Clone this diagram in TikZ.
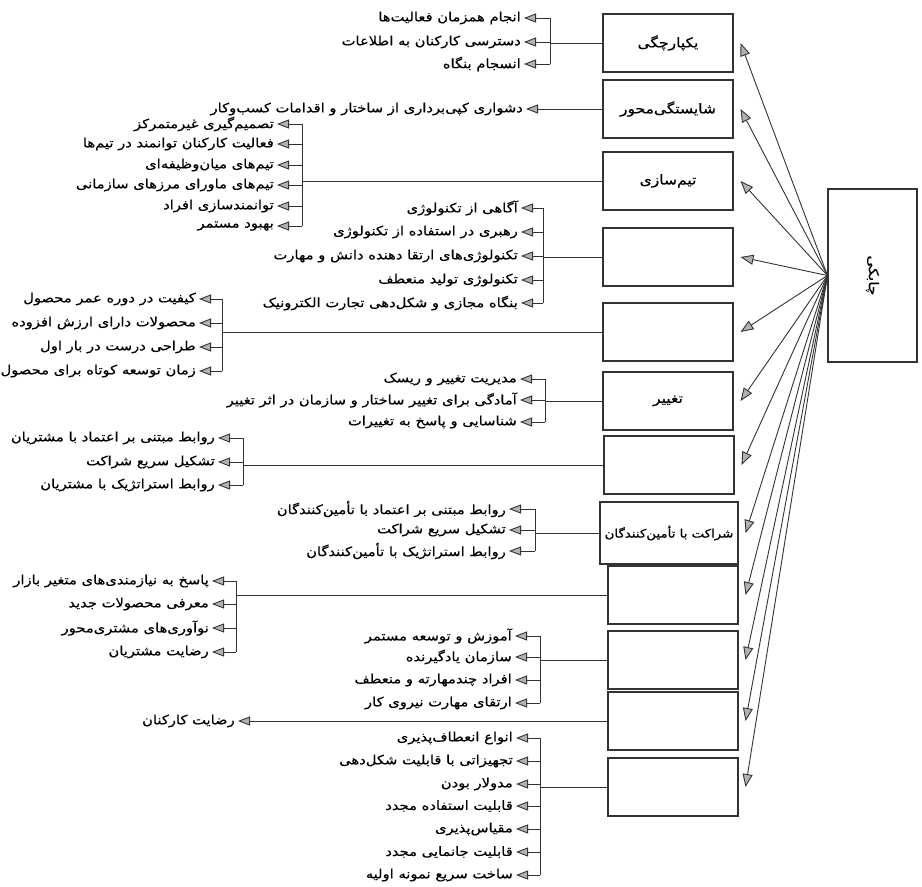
\documentclass[tikz,border=0pt]{standalone}
\usepackage{fontspec}
\newfontfamily\arabicfont[Script=Arabic, FakeStretch=1.15, FakeBold=0.4]{DejaVu Sans}
\TeXXeTstate=1
\usetikzlibrary{arrows.meta}
\tikzset{
  ln/.style={draw=black!80, line width=0.9pt},
  box/.style={draw=black!80, line width=1.1pt, minimum width=130pt, minimum height=58pt, inner sep=0pt, font=\arabicfont\fontsize{13.5}{15}\selectfont},
  itm/.style={anchor=east, inner sep=3pt, font=\arabicfont\fontsize{12.8}{14}\selectfont},
  tk/.style={ln, -{Triangle[length=12pt,width=9pt,fill=gray!60]}},
  ray/.style={ln, -{Triangle[length=13pt,width=10pt,fill=gray!60]}},
}
\begin{document}
\begin{tikzpicture}[x=1pt,y=-1pt]
\fill[white] (0,0) rectangle (922,887);
\useasboundingbox (0,0) rectangle (922,887);

% middle boxes
\node[box] (m1) at (668,43) {\beginR یکپارچگی\endR};
\node[box] (m2) at (668,109) {\beginR شایستگی‌محور\endR};
\node[box] (m3) at (668,181) {\beginR تیم‌سازی\endR};
\node[box] (m4) at (668,257) {};
\node[box] (m5) at (668,332) {};
\node[box] (m6) at (668,401) {\beginR تغییر\endR};
\node[box] (m7) at (669,465) {};
\node[box, minimum width=138pt, minimum height=62pt, font=\arabicfont\fontsize{11.6}{13}\selectfont] (m8) at (669,533) {\beginR شراکت با تأمین‌کنندگان\endR};
\node[box] (m9) at (673,595) {};
\node[box] (m10) at (673,660) {};
\node[box] (m11) at (673,721) {};
\node[box] (m12) at (673,787) {};

% right box
\node[box, rotate=-90, minimum width=173pt, minimum height=89pt] (agil) at (872.5,275.5) {\beginR چابکی\endR};

\foreach \m in {m1,m2,m3,m4,m5,m6,m7,m8,m9,m10,m11,m12}
  \draw[ray] (agil.south) -- ([xshift=7pt]\m.east);

% group 1
\coordinate (j1) at (550,43);
\node[itm] (i1a) at (524,18) {\beginR انجام همزمان فعالیت‌ها\endR};
\node[itm] (i1b) at (524,42) {\beginR دسترسی کارکنان به اطلاعات\endR};
\node[itm] (i1c) at (524,64) {\beginR انسجام بنگاه\endR};
\draw[ln] (m1.west) -- (m1.west -| j1);
\draw[ln] (j1 |- i1a.east) -- (j1 |- i1c.east);
\foreach \n in {a,b,c} \draw[tk] (j1 |- i1\n.east) -- (i1\n.east);

% group 2
\node[itm] (i2) at (526,109) {\beginR دشواری کپی‌برداری از ساختار و اقدامات کسب‌وکار\endR};
\draw[tk] (m2.west) -- (i2.east);

% group 3
\coordinate (j3) at (302,181);
\node[itm] (i3a) at (277,124) {\beginR تصمیم‌گیری غیرمتمرکز\endR};
\node[itm] (i3b) at (277,144) {\beginR فعالیت کارکنان توانمند در تیم‌ها\endR};
\node[itm] (i3c) at (277,165) {\beginR تیم‌های میان‌وظیفه‌ای\endR};
\node[itm] (i3d) at (277,185) {\beginR تیم‌های ماورای مرزهای سازمانی\endR};
\node[itm] (i3e) at (277,206) {\beginR توانمندسازی افراد\endR};
\node[itm] (i3f) at (277,226) {\beginR بهبود مستمر\endR};
\draw[ln] (m3.west) -- (m3.west -| j3);
\draw[ln] (j3 |- i3a.east) -- (j3 |- i3f.east);
\foreach \n in {a,b,c,d,e,f} \draw[tk] (j3 |- i3\n.east) -- (i3\n.east);

% group 4
\coordinate (j4) at (543,257);
\node[itm] (i4a) at (521,208) {\beginR آگاهی از تکنولوژی\endR};
\node[itm] (i4b) at (521,232) {\beginR رهبری در استفاده از تکنولوژی\endR};
\node[itm] (i4c) at (521,256) {\beginR تکنولوژی‌های ارتقا دهنده دانش و مهارت\endR};
\node[itm] (i4d) at (521,280) {\beginR تکنولوژی تولید منعطف\endR};
\node[itm] (i4e) at (521,303) {\beginR بنگاه مجازی و شکل‌دهی تجارت الکترونیک\endR};
\draw[ln] (m4.west) -- (m4.west -| j4);
\draw[ln] (j4 |- i4a.east) -- (j4 |- i4e.east);
\foreach \n in {a,b,c,d,e} \draw[tk] (j4 |- i4\n.east) -- (i4\n.east);

% group 5
\coordinate (j5) at (222,332);
\node[itm] (i5a) at (199,299) {\beginR کیفیت در دوره عمر محصول\endR};
\node[itm] (i5b) at (199,323) {\beginR محصولات دارای ارزش افزوده\endR};
\node[itm] (i5c) at (199,347) {\beginR طراحی درست در بار اول\endR};
\node[itm] (i5d) at (199,371) {\beginR زمان توسعه کوتاه برای محصول\endR};
\draw[ln] (m5.west) -- (m5.west -| j5);
\draw[ln] (j5 |- i5a.east) -- (j5 |- i5d.east);
\foreach \n in {a,b,c,d} \draw[tk] (j5 |- i5\n.east) -- (i5\n.east);

% group 6
\coordinate (j6) at (545,401);
\node[itm] (i6a) at (520,379) {\beginR مدیریت تغییر و ریسک\endR};
\node[itm] (i6b) at (520,400) {\beginR آمادگی برای تغییر ساختار و سازمان در اثر تغییر\endR};
\node[itm] (i6c) at (520,422) {\beginR شناسایی و پاسخ به تغییرات\endR};
\draw[ln] (m6.west) -- (m6.west -| j6);
\draw[ln] (j6 |- i6a.east) -- (j6 |- i6c.east);
\foreach \n in {a,b,c} \draw[tk] (j6 |- i6\n.east) -- (i6\n.east);

% group 7
\coordinate (j7) at (243,465);
\node[itm] (i7a) at (218,438) {\beginR روابط مبتنی بر اعتماد با مشتریان\endR};
\node[itm] (i7b) at (218,462) {\beginR تشکیل سریع شراکت\endR};
\node[itm] (i7c) at (218,485) {\beginR روابط استراتژیک با مشتریان\endR};
\draw[ln] (m7.west) -- (m7.west -| j7);
\draw[ln] (j7 |- i7a.east) -- (j7 |- i7c.east);
\foreach \n in {a,b,c} \draw[tk] (j7 |- i7\n.east) -- (i7\n.east);

% group 8
\coordinate (j8) at (535,533);
\node[itm] (i8a) at (509,509) {\beginR روابط مبتنی بر اعتماد با تأمین‌کنندگان\endR};
\node[itm] (i8b) at (509,530) {\beginR تشکیل سریع شراکت\endR};
\node[itm] (i8c) at (509,551) {\beginR روابط استراتژیک با تأمین‌کنندگان\endR};
\draw[ln] (m8.west) -- (m8.west -| j8);
\draw[ln] (j8 |- i8a.east) -- (j8 |- i8c.east);
\foreach \n in {a,b,c} \draw[tk] (j8 |- i8\n.east) -- (i8\n.east);

% group 9
\coordinate (j9) at (236,595);
\node[itm] (i9a) at (212,581) {\beginR پاسخ به نیازمندی‌های متغیر بازار\endR};
\node[itm] (i9b) at (212,604) {\beginR معرفی محصولات جدید\endR};
\node[itm] (i9c) at (212,628) {\beginR نوآوری‌های مشتری‌محور\endR};
\node[itm] (i9d) at (212,652) {\beginR رضایت مشتریان\endR};
\draw[ln] (m9.west) -- (m9.west -| j9);
\draw[ln] (j9 |- i9a.east) -- (j9 |- i9d.east);
\foreach \n in {a,b,c,d} \draw[tk] (j9 |- i9\n.east) -- (i9\n.east);

% group 10
\coordinate (j10) at (540,660);
\node[itm] (i10a) at (515,636) {\beginR آموزش و توسعه مستمر\endR};
\node[itm] (i10b) at (515,657) {\beginR سازمان یادگیرنده\endR};
\node[itm] (i10c) at (515,680) {\beginR افراد چندمهارته و منعطف\endR};
\node[itm] (i10d) at (515,703) {\beginR ارتقای مهارت نیروی کار\endR};
\draw[ln] (m10.west) -- (m10.west -| j10);
\draw[ln] (j10 |- i10a.east) -- (j10 |- i10d.east);
\foreach \n in {a,b,c,d} \draw[tk] (j10 |- i10\n.east) -- (i10\n.east);

% group 11
\node[itm] (i11) at (238,721) {\beginR رضایت کارکنان\endR};
\draw[tk] (m11.west) -- (i11.east);

% group 12
\coordinate (j12) at (540,787);
\node[itm] (i12a) at (516,738) {\beginR انواع انعطاف‌پذیری\endR};
\node[itm] (i12b) at (516,761) {\beginR تجهیزاتی با قابلیت شکل‌دهی\endR};
\node[itm] (i12c) at (516,784) {\beginR مدولار بودن\endR};
\node[itm] (i12d) at (516,806) {\beginR قابلیت استفاده مجدد\endR};
\node[itm] (i12e) at (516,829) {\beginR مقیاس‌پذیری\endR};
\node[itm] (i12f) at (516,852) {\beginR قابلیت جانمایی مجدد\endR};
\node[itm] (i12g) at (516,875) {\beginR ساخت سریع نمونه اولیه\endR};
\draw[ln] (m12.west) -- (m12.west -| j12);
\draw[ln] (j12 |- i12a.east) -- (j12 |- i12g.east);
\foreach \n in {a,b,c,d,e,f,g} \draw[tk] (j12 |- i12\n.east) -- (i12\n.east);
\end{tikzpicture}
\end{document}
